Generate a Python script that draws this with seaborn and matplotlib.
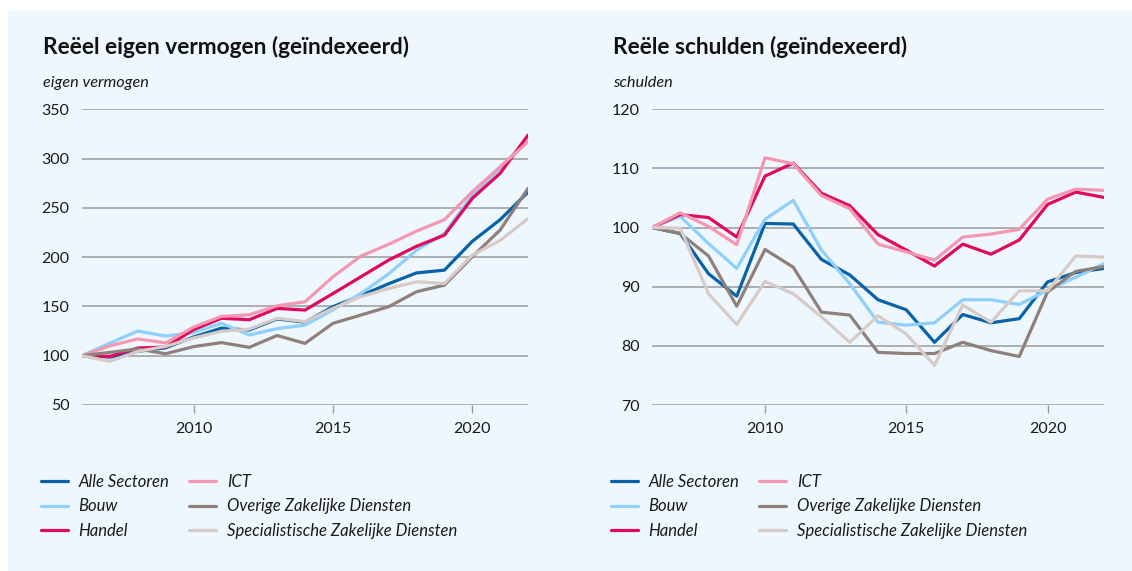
import pandas as pd
import numpy as np
import matplotlib.pyplot as plt
import seaborn as sns
from matplotlib.patches import Rectangle

# data: index 2006 = 100
jaren = list(range(2006, 2023))
sectoren = ['Alle Sectoren', 'Bouw', 'Handel', 'ICT',
            'Overige Zakelijke Diensten', 'Specialistische Zakelijke Diensten']

# reeel eigen vermogen
ev_alle = [100, 98.6, 104.4, 108, 119, 128, 126, 137.3, 134, 149.7, 161, 173, 184, 186.8, 216, 238, 266]
ev_bouw = [100, 112.8, 125, 120, 123.5, 133, 121, 127.5, 131, 146.5, 163, 183, 207, 224, 263, 290, 320]
ev_handel = [100, 99.3, 107.8, 108.8, 126.4, 138, 136.5, 148, 146.3, 163, 180, 197, 211, 222.3, 259.6, 285, 323.8]
ev_ict = [100, 110, 117, 113, 129, 139.9, 141.5, 150.7, 154.7, 180, 201, 213, 226.4, 238, 266.3, 291.7, 317]
ev_overig = [100, 103.4, 106.8, 102, 109.2, 113.3, 108.5, 120.5, 112.5, 132.8, 141.2, 149.7, 164.9, 171.6, 200.4, 227.5, 269.7]
ev_spec = [100, 94.3, 104.4, 109.5, 118, 124.7, 127, 138, 134.5, 148, 159.8, 168.2, 175, 173.3, 202, 217, 239]

# reele schulden
sc_alle = [100, 99, 92.2, 88.4, 100.7, 100.6, 94.6, 92, 87.8, 86.1, 80.6, 85.3, 83.9, 84.6, 90.8, 92.4, 93.1]
sc_bouw = [100, 101.9, 97.3, 93.1, 101.4, 104.6, 96.2, 90.5, 84, 83.5, 83.9, 87.8, 87.8, 87, 89.4, 91.6, 93.9]
sc_handel = [100, 102.2, 101.7, 98.4, 108.7, 110.9, 105.8, 103.7, 98.8, 96.2, 93.5, 97.2, 95.5, 97.9, 103.9, 106, 105.1]
sc_ict = [100, 102.5, 100.2, 97.1, 111.8, 110.8, 105.4, 103.2, 97.2, 95.9, 94.5, 98.4, 98.9, 99.7, 104.8, 106.5, 106.3]
sc_overig = [100, 99, 95.2, 86.7, 96.3, 93.3, 85.7, 85.2, 78.9, 78.7, 78.7, 80.6, 79.2, 78.2, 89.1, 92.6, 93.4]
sc_spec = [100, 99.9, 88.8, 83.6, 90.9, 88.8, 84.9, 80.6, 85.1, 82, 76.7, 86.9, 84, 89.3, 89.3, 95.2, 95]

kleuren = ['#0962a8', '#8ed0fb', '#e0095f', '#f497b0', '#8f807c', '#d7cbc8']
bg = '#eef7fd'


def long_df(reeksen):
    rows = []
    for s, vals in zip(sectoren, reeksen):
        for j, v in zip(jaren, vals):
            rows.append({'jaar': j, 'waarde': v, 'sector': s})
    return pd.DataFrame(rows)


df_ev = long_df([ev_alle, ev_bouw, ev_handel, ev_ict, ev_overig, ev_spec])
df_sc = long_df([sc_alle, sc_bouw, sc_handel, sc_ict, sc_overig, sc_spec])

sns.set_theme(style='white')
plt.rcParams['font.family'] = ['Lato', 'DejaVu Sans']

W, H = 1132, 571
fig = plt.figure(figsize=(W / 100, H / 100), dpi=100, facecolor='white')

# light blue panels
fig.patches.append(Rectangle((8 / W, 0), (576 - 8) / W, (H - 11) / H,
                             transform=fig.transFigure, color=bg, zorder=-10))
fig.patches.append(Rectangle((577 / W, 0), (W - 577) / W, (H - 11) / H,
                             transform=fig.transFigure, color=bg, zorder=-10))

panels = [
    (df_ev, 82, 528, (50, 350), [50, 100, 150, 200, 250, 300, 350],
     'Reëel eigen vermogen (geïndexeerd)', 'eigen vermogen', 43),
    (df_sc, 652, 1104, (70, 120), [70, 80, 90, 100, 110, 120],
     'Reële schulden (geïndexeerd)', 'schulden', 613),
]

for df, x0, x1, ylim, yticks, titel, ylab, tx in panels:
    ax = fig.add_axes([x0 / W, 1 - 405 / H, (x1 - x0) / W, (405 - 109.3) / H])
    ax.patch.set_alpha(0)
    sns.lineplot(data=df, x='jaar', y='waarde', hue='sector', hue_order=sectoren,
                 palette=kleuren, linewidth=2.3, ax=ax)
    ax.set_xlim(2006, 2022)
    ax.set_ylim(*ylim)
    ax.set_yticks(yticks)
    ax.set_xticks([2010, 2015, 2020])
    ax.grid(axis='y', color='#9a9a9a', linewidth=1.1)
    ax.set_axisbelow(True)
    for sp in ax.spines.values():
        sp.set_visible(False)
    ax.tick_params(axis='y', length=0, pad=9, labelsize=11.5, labelcolor='#1a1a1a')
    ax.tick_params(axis='x', length=6, width=1, color='#9a9a9a', pad=6,
                   labelsize=11.5, labelcolor='#1a1a1a', bottom=True)
    ax.set_xlabel('')
    ax.set_ylabel('')

    handles, labels = ax.get_legend_handles_labels()
    ax.get_legend().remove()
    leg = ax.legend(handles, labels, loc='upper left',
                    bbox_to_anchor=((tx - 2) / W, 1 - 474 / H),
                    bbox_transform=fig.transFigure, ncol=2, frameon=False,
                    borderpad=0, borderaxespad=0, handlelength=1.6,
                    handletextpad=0.65, columnspacing=1.2, labelspacing=0.5,
                    prop={'size': 12, 'style': 'italic'})
    for t in leg.get_texts():
        t.set_color('#1a1a1a')

    fig.text(tx / W, 1 - 47 / H, titel, fontsize=16.3, fontweight='bold',
             color='#111111', va='center', ha='left')
    fig.text(tx / W, 1 - 83 / H, ylab, fontsize=11.7, style='italic',
             color='#1a1a1a', va='center', ha='left')

fig.savefig('out.png', dpi=100, facecolor='white')
